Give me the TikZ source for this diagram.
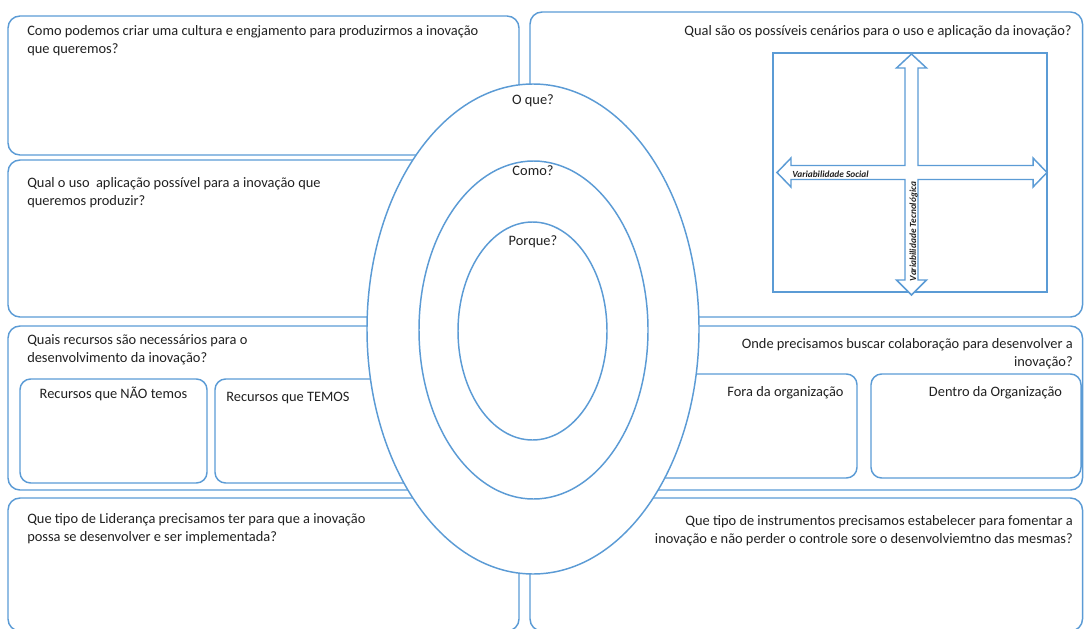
\documentclass[tikz,border=0pt]{standalone}
\usepackage{fontspec}
\setmainfont{Carlito}
\usetikzlibrary{fit,shapes.geometric}
\definecolor{frame}{RGB}{91,155,213}
\definecolor{ink}{RGB}{32,32,32}
\begin{document}
\begin{tikzpicture}[x=0.75pt,y=-0.75pt,
  card/.style={draw=frame,line width=1.1pt,rounded corners=9pt,inner sep=0pt},
  subcard/.style={draw=frame,line width=1.1pt,rounded corners=8pt,inner sep=0pt},
  ring/.style={draw=frame,line width=1.1pt,fill=white,ellipse,inner sep=0pt},
  qtext/.style={font=\fontsize{10.8pt}{13.5pt}\selectfont,text=ink,inner sep=0pt},
  axis/.style={font=\fontsize{7pt}{8pt}\selectfont\bfseries\itshape,text=ink,inner sep=0pt}]
\useasboundingbox (0,0) rectangle (1084,628);
\clip (0,0) rectangle (1084,628);

% question cards on the left
\node[card,fit={(8,16) (519,155)}] (cultura) {};
\node[card,fit={(8,160) (519,317)}] (uso) {};
\node[card,fit={(8,326) (519,490)}] (recursos) {};
\node[card,fit={(8,498) (519,631)}] (lideranca) {};
% question cards on the right
\node[card,fit={(530,12) (1082.5,317)}] (cenarios) {};
\node[card,fit={(530,326) (1082.5,490)}] (colab) {};
\node[card,fit={(530,498) (1082.5,631)}] (instrumentos) {};

% inner cards
\node[subcard,fit={(20,379) (207,483)}] (naotemos) {};
\node[subcard,fit={(215,379) (420,483)}] (temos) {};
\node[subcard,fit={(650,374) (857,478)}] (fora) {};
\node[subcard,fit={(871,374) (1081,478)}] (dentro) {};

% scenario grid with the two axes
\node[draw=frame,line width=1.1pt,inner sep=0pt,fit={(773,53) (1047,292)}] (grade) {};
\draw[draw=frame,line width=1.1pt,fill=white]
  (911.5,54) -- (926.5,68) -- (918,68) -- (918,165.5) -- (1033,165.5) -- (1033,158)
  -- (1047,172.5) -- (1033,187) -- (1033,179.5) -- (918,179.5) -- (918,280)
  -- (926.5,280) -- (911.5,295) -- (896.5,280) -- (905,280) -- (905,179.5)
  -- (791,179.5) -- (791,187) -- (777,172.5) -- (791,158) -- (791,165.5)
  -- (905,165.5) -- (905,68) -- (896.5,68) -- cycle;
\node[axis,anchor=base west] (social) at (792,177.5) {Variabilidade Social};
\node[axis,rotate=90] (tecno) at (913.5,231.5) {Variabilidade Tecnológica};

% concentric rings
\node[ring,minimum width=249pt,minimum height=367.5pt] (oque) at (533,329) {};
\node[ring,minimum width=171.75pt,minimum height=253.5pt] (como) at (533.5,330) {};
\node[ring,minimum width=111.75pt,minimum height=163.5pt] (porque) at (532.5,331) {};
\node[qtext,anchor=base] (loque) at (533,104) {O que?};
\node[qtext,anchor=base] (lcomo) at (533,175) {Como?};
\node[qtext,anchor=base] (lporque) at (533,245) {Porque?};

% questions (two-line nodes are anchored on the baseline of their last line)
\node[qtext,anchor=base west,align=left] (tcultura) at (27,53)
  {Como podemos criar uma cultura e engjamento para produzirmos a inovação\\que queremos?};
\node[qtext,anchor=base west,align=left] (tuso) at (27,205)
  {Qual o uso\ \ aplicação possível para a inovação que\\queremos produzir?};
\node[qtext,anchor=base west,align=left] (trecursos) at (27,362)
  {Quais recursos são necessários para o\\desenvolvimento da inovação?};
\node[qtext,anchor=base] (tnaotemos) at (113.5,398) {Recursos que NÃO temos};
\node[qtext,anchor=base west] (ttemos) at (226,401) {Recursos que TEMOS};
\node[qtext,anchor=base west,align=left] (tlideranca) at (27,541)
  {Que tipo de Liderança precisamos ter para que a inovação\\possa se desenvolver e ser implementada?};
\node[qtext,anchor=base east] (tcenarios) at (1072,35)
  {Qual são os possíveis cenários para o uso e aplicação da inovação?};
\node[qtext,anchor=base east,align=right] (tcolab) at (1073,366)
  {Onde precisamos buscar colaboração para desenvolver a\\inovação?};
\node[qtext,anchor=base] (tfora) at (785.5,396) {Fora da organização};
\node[qtext,anchor=base] (tdentro) at (995.5,396) {Dentro da Organização};
\node[qtext,anchor=base east,align=right] (tinstr) at (1073,543)
  {Que tipo de instrumentos precisamos estabelecer para fomentar a\\inovação e não perder o controle sore o desenvolviemtno das mesmas?};
\end{tikzpicture}
\end{document}
